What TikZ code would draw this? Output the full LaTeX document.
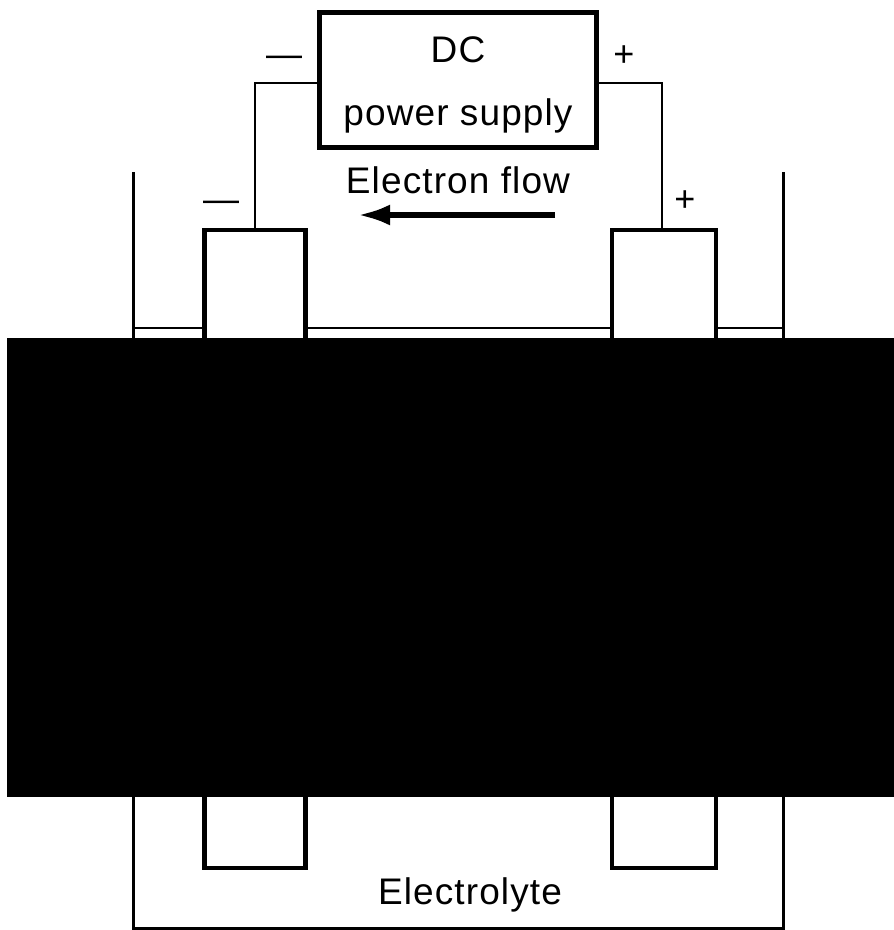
\documentclass[tikz,border=0pt]{standalone}
\usepackage{fontspec}
\setmainfont{Liberation Sans}
\newfontfamily\spacedfont[LetterSpace=3]{Liberation Sans}
\usetikzlibrary{arrows.meta}
\tikzset{
  thickbox/.style={draw=black, line width=5.5pt, inner sep=0pt},
  electrode/.style={draw=black, line width=4.5pt, fill=white, inner sep=0pt},
  wire/.style={line width=2.4pt},
  lbl/.style={font=\fontsize{37}{42}\spacedfont, inner sep=0pt},
  sign/.style={font=\fontsize{36}{40}\selectfont, inner sep=0pt}
}
\begin{document}
\begin{tikzpicture}[x=1pt,y=-1pt]
        \useasboundingbox (0,0) rectangle (894,930);
        % Zbiornik
        \coordinate (tankTL) at (133,172);
        \coordinate (tankBL) at (133,928);
        \coordinate (tankBR) at (783,928);
        \coordinate (tankTR) at (783,172);
        \draw[wire, line width=3pt] (tankTL) -- (tankBL) -- (tankBR) -- (tankTR);

        % Poziom elektrolitu
        \coordinate (levelL) at (133,328);
        \coordinate (levelR) at (783,328);
        \draw[wire] (levelL) -- (levelR);

        % Elektrody
        \node[electrode, minimum width=101pt, minimum height=638pt] (cathode) at (255,549) {};
        \node[electrode, minimum width=104pt, minimum height=638pt] (anode) at (664,549) {};

        % Zasilacz
        \node[thickbox, minimum width=277pt, minimum height=135pt] (supply) at (458,80) {};
        \node[lbl] (dcLabel) at (458,50) {DC};
        \node[lbl] (psLabel) at (458,116) {power supply};

        % Przewody
        \draw[wire] (supply.west |- 0,83) -- (255,83) -- (cathode.north);
        \draw[wire] (supply.east |- 0,83) -- (662,83) -- (662,231);

        % Oznaczenia
        \node[sign] (minusTop) at (284,61) {---};
        \node[sign] (plusTop) at (624,56) {+};
        \node[sign] (minusCell) at (221,206) {---};
        \node[sign] (plusCell) at (685,201) {+};
        \node[lbl] (flowLabel) at (458,180) {Electron flow};
        \coordinate (flowStart) at (555,215);
        \coordinate (flowEnd) at (358,215);
        \draw[line width=5.5pt, -{Latex[length=32pt,width=21pt]}] (flowStart) -- (flowEnd);
        \node[lbl] (electrolyte) at (470,895) {Electrolyte};

        % Zasloniety obszar
        \fill[black] (7,338) rectangle (894,797);
    \end{tikzpicture}
\end{document}
